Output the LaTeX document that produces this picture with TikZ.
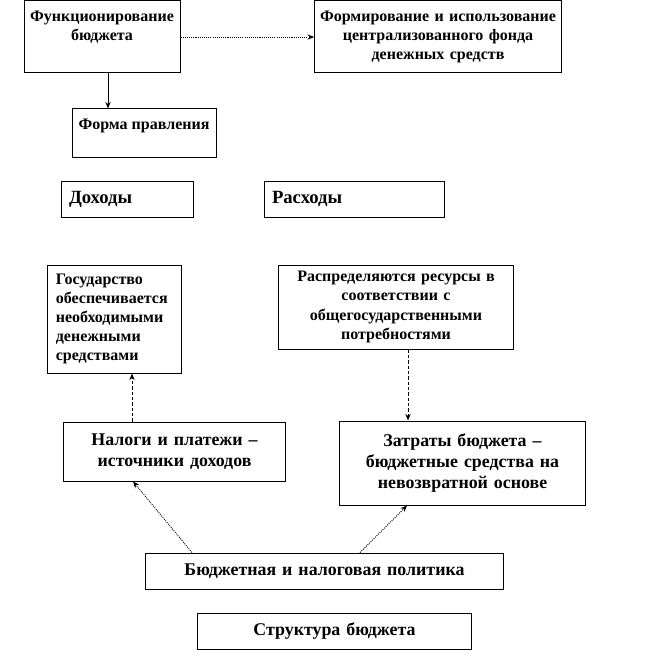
\documentclass[tikz,border=0pt]{standalone}
\usepackage{fontspec}
\setmainfont{Liberation Serif}
\usetikzlibrary{arrows.meta}

\tikzset{
  box/.style={draw, line width=0.75pt, inner sep=0pt, align=center},
  small/.style={font=\fontsize{12}{14.4}\selectfont\bfseries},
  big/.style={font=\fontsize{14}{15.8}\selectfont\bfseries},
  mid/.style={font=\fontsize{13.4}{15.8}\selectfont\bfseries},
  tip/.style={-{Stealth[length=5pt,width=4pt]}, line width=0.6pt},
  dotline/.style={tip, dash pattern=on 0.8pt off 0.8pt},
  dashline/.style={tip, dash pattern=on 2.5pt off 1.5pt}
}

\begin{document}
\begin{tikzpicture}[x=0.75pt,y=-0.75pt]
\useasboundingbox (0,0) rectangle (650,663);
% upper part
\node[box, minimum width=117pt, minimum height=54pt,
  label={[small, align=center, anchor=north, yshift=-4pt]north:Функционирование\\бюджета}] (fb) at (102,37) {};
\node[box, small, text width=185pt, minimum height=54pt] (ff) at (438,37)
  {Формирование и использование\\централизованного фонда\\денежных средств};
\node[box, minimum width=108pt, minimum height=36pt,
  label={[small, anchor=north, yshift=-4pt]north:Форма правления}] (fp) at (144,133) {};
\draw[dotline] (fb) -- (ff);
\draw[tip] ([xshift=4.5pt]fb.south) -- ([xshift=4.5pt]fb.south |- fp.north);
% revenues and expenses
\node[box, big, align=left, text width=87pt, minimum height=27pt, inner xsep=6pt] (dh) at (127,199) {Доходы};
\node[box, big, align=left, text width=123pt, minimum height=27pt, inner xsep=6pt] (rs) at (354,199) {Расходы};
% lower part
\node[box, small, align=left, text width=88pt, minimum height=81pt, inner xsep=6pt] (gs) at (114.5,319)
  {Государство\\обеспечивается\\необходимыми\\денежными\\средствами};
\node[box, small, text width=176pt, minimum height=63pt] (rr) at (396,307)
  {Распределяются ресурсы в\\соответствии с\\общегосударственными\\потребностями};
\node[box, mid, text width=166pt, minimum height=44.25pt] (nl) at (174.5,451.5)
  {Налоги и платежи –\\источники доходов};
\node[box, mid, text width=184pt, minimum height=63pt] (zt) at (462.5,463)
  {Затраты бюджета –\\бюджетные средства на\\невозвратной основе};
\node[box, mid, text width=268pt, minimum height=27pt] (bn) at (324.5,571)
  {Бюджетная и налоговая политика};
\node[box, mid, text width=206pt, minimum height=27pt] (sb) at (334.5,631)
  {Структура бюджета};
\draw[dashline] ([xshift=13.1pt]gs.south |- nl.north) -- ([xshift=13.1pt]gs.south);
\draw[dashline] ([xshift=9pt]rr.south) -- ([xshift=9pt]rr.south |- zt.north);
\draw[dotline] ([xshift=-99.4pt]bn.north) -- ([xshift=-31.1pt]nl.south);
\draw[dotline] ([xshift=26.6pt]bn.north) -- ([xshift=-41.6pt]zt.south);
\end{tikzpicture}
\end{document}
